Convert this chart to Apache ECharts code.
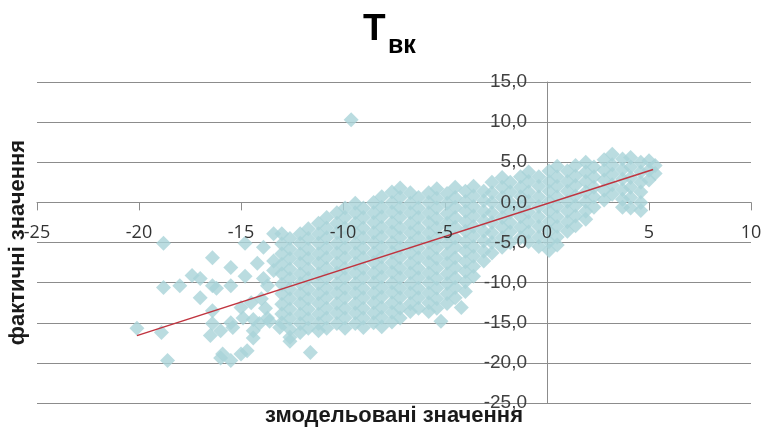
<!DOCTYPE html>
<html>
<head>
<meta charset="utf-8">
<script src="https://cdn.jsdelivr.net/npm/echarts@6/dist/echarts.min.js"></script>
<style>
  html, body { margin: 0; background: #fff; }
  #chart { width: 764px; height: 431px; }
</style>
</head>
<body>
<div id="chart"></div>
<script>
// axis ranges (ticks every 5)
const xLimits = [-25, 10];
const yLimits = [-25, 15];
const tickStep = 5;

// linear trend line, ends
const trendX = [-20.1, 5.2];
const trendY = [-16.6, 4.1];

// [modelled, actual]
const points = [
  // sparse left part
  [-20.1,-15.7],[-18.9,-16.2],[-18.6,-19.7],[-18.8,-5.1],[-18.8,-10.6],[-18.0,-10.4],[-17.4,-9.1],[-17.0,-9.5],
  [-17.0,-11.9],[-16.4,-6.9],[-16.4,-10.4],[-16.2,-10.7],[-15.5,-8.1],[-15.5,-10.4],[-14.8,-9.2],[-14.8,-5.1],
  [-13.7,-10.4],[-16.4,-13.5],[-16.4,-15.1],[-16.5,-16.6],[-16.0,-16.0],[-15.4,-15.6],[-15.5,-15.0],[-16.0,-19.4],
  [-15.9,-18.9],[-15.5,-19.7],[-15.0,-18.9],[-14.7,-18.5],[-15.0,-13.1],[-14.5,-12.5],[-14.9,-14.4],[-14.4,-14.6],
  [-14.4,-16.0],[-14.4,-16.9],[-14.1,-15.1],[-13.7,-14.4],[-13.6,-14.8],[-13.1,-15.6],[-13.8,-13.2],[-14.0,-12.0],
  [-12.6,-17.3],[-11.6,-18.7],[-13.4,-3.9],[-13.9,-5.6],[-13.4,-7.3],[-13.4,-8.5],[-14.2,-7.6],[-13.9,-9.5],
  [-9.6,10.3],
  // main cloud
  [-13.0,-3.9],[-13.0,-5.2],[-13.0,-6.4],[-13.0,-7.7],[-13.0,-8.9],[-13.0,-10.2],[-13.0,-11.4],[-13.0,-12.7],[-13.0,-13.9],[-13.0,-15.0],
  [-12.6,-4.5],[-12.6,-5.8],[-12.6,-7.0],[-12.6,-8.3],[-12.6,-9.5],[-12.6,-10.8],[-12.6,-12.0],[-12.6,-13.3],[-12.6,-14.5],[-12.6,-15.8],[-12.6,-16.8],
  [-12.1,-3.9],[-12.1,-5.1],[-12.1,-6.4],[-12.1,-7.6],[-12.1,-8.9],[-12.1,-10.1],[-12.1,-11.4],[-12.1,-12.6],[-12.1,-13.9],[-12.1,-15.1],[-12.1,-16.2],
  [-11.7,-3.3],[-11.7,-4.5],[-11.7,-5.8],[-11.7,-7.0],[-11.7,-8.3],[-11.7,-9.5],[-11.7,-10.8],[-11.7,-12.0],[-11.7,-13.3],[-11.7,-14.5],[-11.7,-15.7],
  [-11.2,-2.6],[-11.2,-3.9],[-11.2,-5.1],[-11.2,-6.4],[-11.2,-7.6],[-11.2,-8.9],[-11.2,-10.1],[-11.2,-11.4],[-11.2,-12.6],[-11.2,-13.9],[-11.2,-15.1],[-11.2,-16.0],
  [-10.8,-1.9],[-10.8,-3.2],[-10.8,-4.4],[-10.8,-5.7],[-10.8,-6.9],[-10.8,-8.2],[-10.8,-9.4],[-10.8,-10.7],[-10.8,-11.9],[-10.8,-13.2],[-10.8,-14.4],[-10.8,-15.7],
  [-10.3,-1.3],[-10.3,-2.6],[-10.3,-3.8],[-10.3,-5.1],[-10.3,-6.3],[-10.3,-7.6],[-10.3,-8.8],[-10.3,-10.1],[-10.3,-11.3],[-10.3,-12.6],[-10.3,-13.8],[-10.3,-15.1],
  [-9.9,-0.7],[-9.9,-1.9],[-9.9,-3.2],[-9.9,-4.4],[-9.9,-5.7],[-9.9,-6.9],[-9.9,-8.2],[-9.9,-9.4],[-9.9,-10.7],[-9.9,-11.9],[-9.9,-13.2],[-9.9,-14.4],[-9.9,-15.7],
  [-9.4,-0.1],[-9.4,-1.3],[-9.4,-2.6],[-9.4,-3.8],[-9.4,-5.1],[-9.4,-6.3],[-9.4,-7.6],[-9.4,-8.8],[-9.4,-10.1],[-9.4,-11.3],[-9.4,-12.6],[-9.4,-13.8],[-9.4,-15.1],
  [-9.0,-0.7],[-9.0,-1.9],[-9.0,-3.2],[-9.0,-4.4],[-9.0,-5.7],[-9.0,-6.9],[-9.0,-8.2],[-9.0,-9.4],[-9.0,-10.7],[-9.0,-11.9],[-9.0,-13.2],[-9.0,-14.4],[-9.0,-15.6],
  [-8.5,0.0],[-8.5,-1.3],[-8.5,-2.5],[-8.5,-3.8],[-8.5,-5.0],[-8.5,-6.3],[-8.5,-7.5],[-8.5,-8.8],[-8.5,-10.0],[-8.5,-11.3],[-8.5,-12.5],[-8.5,-13.8],[-8.5,-15.0],
  [-8.1,0.7],[-8.1,-0.6],[-8.1,-1.8],[-8.1,-3.1],[-8.1,-4.3],[-8.1,-5.6],[-8.1,-6.8],[-8.1,-8.1],[-8.1,-9.3],[-8.1,-10.6],[-8.1,-11.8],[-8.1,-13.1],[-8.1,-14.3],[-8.1,-15.5],
  [-7.6,1.3],[-7.6,0.0],[-7.6,-1.2],[-7.6,-2.5],[-7.6,-3.7],[-7.6,-5.0],[-7.6,-6.2],[-7.6,-7.5],[-7.6,-8.7],[-7.6,-10.0],[-7.6,-11.2],[-7.6,-12.5],[-7.6,-13.7],[-7.6,-14.9],
  [-7.2,1.8],[-7.2,0.6],[-7.2,-0.7],[-7.2,-1.9],[-7.2,-3.2],[-7.2,-4.4],[-7.2,-5.7],[-7.2,-6.9],[-7.2,-8.2],[-7.2,-9.4],[-7.2,-10.7],[-7.2,-11.9],[-7.2,-13.2],[-7.2,-14.4],
  [-6.7,1.2],[-6.7,-0.1],[-6.7,-1.3],[-6.7,-2.6],[-6.7,-3.8],[-6.7,-5.1],[-6.7,-6.3],[-6.7,-7.6],[-6.7,-8.8],[-6.7,-10.1],[-6.7,-11.3],[-6.7,-12.6],[-6.7,-13.6],
  [-6.3,0.6],[-6.3,-0.7],[-6.3,-1.9],[-6.3,-3.2],[-6.3,-4.4],[-6.3,-5.7],[-6.3,-6.9],[-6.3,-8.2],[-6.3,-9.4],[-6.3,-10.7],[-6.3,-11.9],[-6.3,-13.2],
  [-5.8,1.2],[-5.8,0.0],[-5.8,-1.3],[-5.8,-2.5],[-5.8,-3.8],[-5.8,-5.0],[-5.8,-6.3],[-5.8,-7.5],[-5.8,-8.8],[-5.8,-10.0],[-5.8,-11.3],[-5.8,-12.5],[-5.8,-13.6],
  [-5.4,1.7],[-5.4,0.5],[-5.4,-0.7],[-5.4,-2.0],[-5.4,-3.2],[-5.4,-4.5],[-5.4,-5.7],[-5.4,-7.0],[-5.4,-8.2],[-5.4,-9.5],[-5.4,-10.7],[-5.4,-12.0],[-5.4,-13.2],[-5.2,-14.8],
  [-4.9,1.1],[-4.9,-0.1],[-4.9,-1.4],[-4.9,-2.6],[-4.9,-3.9],[-4.9,-5.1],[-4.9,-6.4],[-4.9,-7.6],[-4.9,-8.9],[-4.9,-10.1],[-4.9,-11.4],[-4.9,-12.6],
  [-4.5,1.9],[-4.5,0.6],[-4.5,-0.6],[-4.5,-1.9],[-4.5,-3.1],[-4.5,-4.4],[-4.5,-5.6],[-4.5,-6.9],[-4.5,-8.1],[-4.5,-9.4],[-4.5,-10.6],[-4.5,-11.9],[-4.2,-13.1],
  [-4.0,1.4],[-4.0,0.1],[-4.0,-1.1],[-4.0,-2.4],[-4.0,-3.6],[-4.0,-4.9],[-4.0,-6.1],[-4.0,-7.4],[-4.0,-8.6],[-4.0,-9.9],[-4.0,-11.1],
  [-3.6,2.0],[-3.6,0.8],[-3.6,-0.5],[-3.6,-1.7],[-3.6,-3.0],[-3.6,-4.2],[-3.6,-5.5],[-3.6,-6.7],[-3.6,-8.0],[-3.6,-9.2],
  [-3.1,1.4],[-3.1,0.2],[-3.1,-1.1],[-3.1,-2.3],[-3.1,-3.6],[-3.1,-4.8],[-3.1,-6.1],[-3.1,-7.3],
  [-2.7,2.5],[-2.7,1.2],[-2.7,0.0],[-2.7,-1.3],[-2.7,-2.5],[-2.7,-3.8],[-2.7,-5.0],[-2.7,-6.3],
  [-2.2,3.1],[-2.2,1.9],[-2.2,0.6],[-2.2,-0.6],[-2.2,-1.9],[-2.2,-3.1],[-2.2,-4.4],[-2.2,-5.6],
  [-1.8,2.5],[-1.8,1.3],[-1.8,0.0],[-1.8,-1.2],[-1.8,-2.5],[-1.8,-3.7],[-1.8,-5.0],
  [-1.3,3.2],[-1.3,1.9],[-1.3,0.7],[-1.3,-0.6],[-1.3,-1.8],[-1.3,-3.1],[-1.3,-4.4],
  [-0.9,3.8],[-0.9,2.6],[-0.9,1.3],[-0.9,0.1],[-0.9,-1.2],[-0.9,-2.4],[-0.9,-3.7],[-0.9,-4.9],
  [-0.4,3.2],[-0.4,2.0],[-0.4,0.7],[-0.4,-0.5],[-0.4,-1.8],[-0.4,-3.0],[-0.4,-4.3],[-0.4,-5.5],
  [0.1,3.9],[0.1,2.6],[0.1,1.4],[0.1,0.1],[0.1,-1.1],[0.1,-2.4],[0.1,-3.6],[0.1,-4.9],[0.1,-6.0],
  [0.5,4.5],[0.5,3.2],[0.5,2.0],[0.5,0.7],[0.5,-0.5],[0.5,-1.8],[0.5,-3.0],[0.5,-4.3],[0.5,-5.3],
  [1.0,3.9],[1.0,2.6],[1.0,1.4],[1.0,0.1],[1.0,-1.1],[1.0,-2.4],[1.0,-3.6],
  [1.4,4.6],[1.4,3.3],[1.4,2.1],[1.4,0.8],[1.4,-0.4],[1.4,-1.7],[1.4,-2.9],
  [1.9,5.0],[1.9,3.8],[1.9,2.6],[1.9,1.3],[1.9,0.1],[1.9,-1.1],[1.9,-2.1],
  [2.3,4.4],[2.3,3.2],[2.3,1.9],[2.3,0.7],[2.3,-0.6],
  [2.8,5.3],[2.8,4.0],[2.8,2.8],[2.8,1.5],[2.8,0.3],
  [3.2,6.0],[3.2,4.7],[3.2,3.5],[3.2,2.2],[3.2,1.0],
  [3.7,5.4],[3.7,4.1],[3.7,2.9],[3.7,1.6],[3.7,0.4],[3.7,-0.6],
  [4.1,5.6],[4.1,4.4],[4.1,3.1],[4.1,1.9],[4.1,0.6],[4.1,-0.7],
  [4.6,5.0],[4.6,3.8],[4.6,2.5],[4.6,1.3],[4.6,0.0],[4.6,-1.0],
  [5.0,5.2],[5.0,4.0],[5.0,2.8],
  [5.3,4.6],[5.3,3.6]
];

const lineGray = '#8c8c8c';
const fmtY = v => v.toFixed(1).replace('.', ',');
const chart = echarts.init(document.getElementById('chart'));

// plot box in pixels
const box = { left: 37, right: 13, top: 82, bottom: 28, width: 764 - 37 - 13, height: 431 - 82 - 28 };
// pixel position of the zero lines (axes cross there, like in Excel)
const zeroY = box.top + box.height * yLimits[1] / (yLimits[1] - yLimits[0]);
const zeroX = box.left + box.width * (0 - xLimits[0]) / (xLimits[1] - xLimits[0]);

const axis = (lim, extra) => Object.assign({
  type: 'value', min: lim[0], max: lim[1], interval: tickStep,
  axisLine: { show: false, onZero: false },
  axisTick: { show: false },
  axisLabel: { show: false },
  splitLine: { show: false }
}, extra);
const hidden = lim => axis(lim, { show: false });

const option = {
  animation: false,
  title: [
    {
      text: 'Т', left: 358, top: 6,
      textStyle: { fontFamily: 'Liberation Sans', fontWeight: 'bold', fontSize: 37, color: '#000' }
    },
    {
      text: 'вк', left: 383, top: 29,
      textStyle: { fontFamily: 'Liberation Sans', fontWeight: 'bold', fontSize: 25, color: '#000' }
    }
  ],
  grid: [
    // plot area
    { left: box.left, right: box.right, top: box.top, bottom: box.bottom, outerBoundsMode: 'none' },
    // x axis sits on y = 0
    { left: box.left, right: box.right, top: box.top, bottom: 431 - zeroY, outerBoundsMode: 'none' },
    // y axis sits on x = 0
    { left: zeroX, right: box.right, top: box.top, bottom: box.bottom, outerBoundsMode: 'none' }
  ],
  xAxis: [
    hidden(xLimits),
    // x axis line + ticks, under the points
    axis(xLimits, {
      gridIndex: 1, position: 'bottom', z: 0,
      axisLine: { show: true, onZero: false, lineStyle: { color: lineGray, width: 1 } },
      axisTick: { show: true, length: 8, lineStyle: { color: lineGray } }
    }),
    // x labels + name, over the points
    axis(xLimits, {
      gridIndex: 1, position: 'bottom', z: 5,
      axisLabel: {
        show: true, margin: 21, fontFamily: 'Open Sans', fontSize: 18, color: '#333',
        showMinLabel: true, showMaxLabel: true
      },
      name: 'змодельовані значення',
      nameLocation: 'middle',
      nameGap: 203,
      nameTextStyle: { fontFamily: 'Liberation Sans', fontWeight: 'bold', fontSize: 22, color: '#1a1a1a' }
    }),
    Object.assign(hidden(xLimits), { gridIndex: 2 })
  ],
  yAxis: [
    // horizontal grid lines, under the points
    axis(yLimits, {
      gridIndex: 0, z: 0,
      splitLine: { show: true, lineStyle: { color: lineGray, width: 1 } }
    }),
    Object.assign(hidden(yLimits), { gridIndex: 1 }),
    // y axis line, under the points
    axis(yLimits, {
      gridIndex: 2, position: 'left', z: 0,
      axisLine: { show: true, onZero: false, lineStyle: { color: lineGray, width: 1 } }
    }),
    // y labels + name, over the points
    axis(yLimits, {
      gridIndex: 2, position: 'left', z: 5,
      axisLabel: {
        show: true, margin: 20, fontFamily: 'Liberation Sans', fontSize: 19, color: '#404040',
        formatter: fmtY, showMinLabel: true, showMaxLabel: true
      },
      name: 'фактичні значення',
      nameLocation: 'middle',
      nameGap: 518,
      nameTextStyle: { fontFamily: 'Liberation Sans', fontWeight: 'bold', fontSize: 22, color: '#1a1a1a' }
    })
  ],
  series: [
    {
      type: 'scatter',
      xAxisIndex: 0,
      yAxisIndex: 0,
      data: points,
      symbol: 'diamond',
      symbolSize: 15,
      itemStyle: { color: '#a9d3d8' },
      emphasis: { disabled: true },
      z: 2
    },
    {
      type: 'line',
      xAxisIndex: 0,
      yAxisIndex: 0,
      data: trendX.map((x, i) => [x, trendY[i]]),
      symbol: 'none',
      lineStyle: { color: '#c0343f', width: 1.5 },
      emphasis: { disabled: true },
      z: 3
    }
  ]
};

chart.setOption(option);
window.addEventListener('resize', () => chart.resize());
</script>
</body>
</html>
